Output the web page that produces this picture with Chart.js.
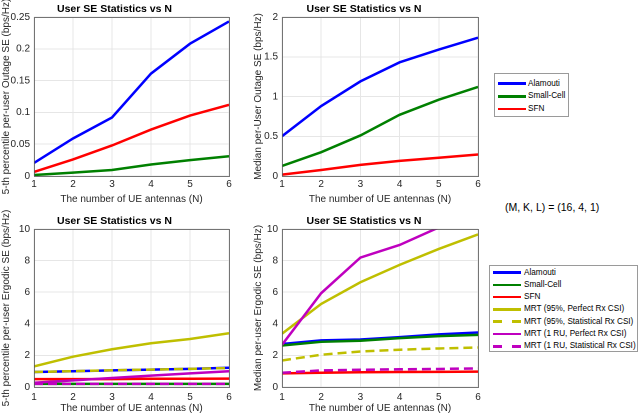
<!DOCTYPE html>
<html><head><meta charset="utf-8">
<script src="https://cdn.jsdelivr.net/npm/chart.js@4.4.0/dist/chart.umd.min.js"></script>
<style>
body{margin:0;background:#fff;width:640px;height:416px;overflow:hidden;position:relative;font-family:"Liberation Sans",Arial,sans-serif;}
canvas{position:absolute;}
.legend{position:absolute;border:1px solid #9a9a9a;background:#fff;box-sizing:border-box;color:#000;}
.row{position:absolute;left:0;right:0;height:0;}
.sw{position:absolute;width:28px;height:2.5px;margin-top:-1.25px;}
.lbl{position:absolute;white-space:nowrap;transform:translateY(-50%);line-height:1;}
#mkl{position:absolute;left:505px;top:201px;font-size:10.5px;color:#000;white-space:nowrap;}
</style></head><body>
<canvas id="cTL" style="left:0;top:0;width:240px;height:205px" width="240" height="205"></canvas>
<canvas id="cTR" style="left:250px;top:0;width:235px;height:205px" width="235" height="205"></canvas>
<canvas id="cBL" style="left:0;top:205px;width:240px;height:211px" width="240" height="211"></canvas>
<canvas id="cBR" style="left:250px;top:205px;width:235px;height:211px" width="235" height="211"></canvas>
<div class="legend" id="leg1" style="left:494px;top:73px;width:75px;height:44px;font-size:8.2px"></div>
<div class="legend" id="leg2" style="left:489px;top:265px;width:149px;height:87px;font-size:8.2px"></div>
<div id="mkl">(M, K, L) = (16, 4, 1)</div>
<script>
// ---- data ----
const N = [1, 2, 3, 4, 5, 6];
const titleText = 'User SE Statistics vs N';
const xTitle = 'The number of UE antennas (N)';
const seriesNames = ['Alamouti', 'Small-Cell', 'SFN', 'MRT (95%, Perfect Rx CSI)', 'MRT (95%, Statistical Rx CSI)', 'MRT (1 RU, Perfect Rx CSI)', 'MRT (1 RU, Statistical Rx CSI)'];

// top-left: 5-th percentile outage SE
const tlAlamouti = [0.0205, 0.059, 0.092, 0.161, 0.208, 0.243];
const tlSmallCell = [0.0016, 0.0053, 0.0095, 0.018, 0.025, 0.031];
const tlSFN = [0.0063, 0.026, 0.048, 0.073, 0.095, 0.112];
const tlTicks = [0, 0.05, 0.1, 0.15, 0.2, 0.25];

// top-right: median outage SE
const trAlamouti = [0.50, 0.88, 1.19, 1.43, 1.59, 1.74];
const trSmallCell = [0.126, 0.30, 0.51, 0.77, 0.96, 1.12];
const trSFN = [0.017, 0.076, 0.14, 0.19, 0.23, 0.27];
const trTicks = [0, 0.5, 1, 1.5, 2];

// bottom-left: 5-th percentile ergodic SE
const blAlamouti = [0.95, 1.0, 1.05, 1.1, 1.15, 1.22];
const blSmallCell = [0.2, 0.2, 0.2, 0.2, 0.2, 0.2];
const blSFN = [0.5, 0.5, 0.5, 0.52, 0.52, 0.53];
const blMRT95Perfect = [1.3, 1.92, 2.39, 2.77, 3.04, 3.4];
const blMRT95Stat = [0.95, 1.0, 1.06, 1.1, 1.15, 1.2];
const blMRT1RUPerfect = [0.27, 0.42, 0.57, 0.72, 0.86, 1.0];
const blMRT1RUStat = [0.2, 0.2, 0.2, 0.2, 0.2, 0.2];
const bTicks = [0, 2, 4, 6, 8, 10];

// bottom-right: median ergodic SE
const brAlamouti = [2.72, 2.95, 3.01, 3.16, 3.33, 3.45];
const brSmallCell = [2.63, 2.86, 2.93, 3.09, 3.22, 3.3];
const brSFN = [0.86, 0.9, 0.93, 0.95, 0.96, 0.97];
const brMRT95Perfect = [3.37, 5.26, 6.63, 7.73, 8.74, 9.66];
const brMRT95Stat = [1.68, 2.04, 2.25, 2.36, 2.44, 2.5];
const brMRT1RUPerfect = [2.67, 5.94, 8.19, 8.99, 10.1, 11.2];
const brMRT1RUStat = [0.9, 1.05, 1.09, 1.12, 1.14, 1.18];

// ---- styles ----
const colors = ['#0000ff', '#008000', '#ff0000', '#bfbf00', '#bfbf00', '#bf00bf', '#bf00bf'];
const dashes = [[], [], [], [], [9, 5], [], [9, 5]];
const tickColor = '#262626';

const boxPlugin = {
  id: 'boxPlugin',
  afterDraw(chart) {
    const a = chart.chartArea, ctx = chart.ctx;
    ctx.save();
    ctx.strokeStyle = '#555';
    ctx.lineWidth = 0.8;
    ctx.strokeRect(Math.round(a.left) + 0.5, Math.round(a.top) + 0.5, Math.round(a.right - a.left), Math.round(a.bottom - a.top));
    ctx.restore();
  }
};

function makeChart(id, seriesList, yTicks, yMax, yTitle, geo) {
  const datasets = seriesList.map((s, i) => ({
    label: seriesNames[s.idx],
    data: s.data,
    borderColor: colors[s.idx],
    backgroundColor: colors[s.idx],
    borderWidth: 2.5,
    borderDash: dashes[s.idx],
    pointRadius: 0,
    tension: 0,
    fill: false,
    clip: 0,
    order: 10 - s.idx
  }));
  new Chart(document.getElementById(id), {
    type: 'line',
    data: { labels: N, datasets },
    options: {
      responsive: false,
      animation: false,
      devicePixelRatio: 2,
      layout: { padding: { left: 0, right: geo.padRight, top: 0, bottom: 0 } },
      plugins: {
        legend: { display: false },
        tooltip: { enabled: false },
        title: {
          display: true, text: titleText, color: '#000',
          font: { family: 'Liberation Sans', size: 10.5, weight: 'bold', lineHeight: 1.2 },
          padding: { top: geo.titleTop, bottom: geo.titleBottom }
        }
      },
      scales: {
        x: {
          type: 'category',
          offset: false,
          grid: { color: '#e6e6e6', drawTicks: false, lineWidth: 1 },
          border: { display: false },
          ticks: { color: tickColor, font: { family: 'Liberation Sans', size: 10 }, padding: geo.xTickPad, maxRotation: 0 },
          title: { display: true, text: xTitle, color: tickColor, font: { family: 'Liberation Sans', size: 10 }, padding: { top: 0, bottom: geo.xTitlePad } },
          afterFit(scale) { scale.height = geo.xHeight; }
        },
        y: {
          min: 0, max: yMax,
          grid: { color: '#e6e6e6', drawTicks: false, lineWidth: 1 },
          border: { display: false },
          afterBuildTicks(scale) { scale.ticks = yTicks.map(v => ({ value: v })); },
          ticks: { color: tickColor, font: { family: 'Liberation Sans', size: 10 }, padding: 4, callback: v => String(v) },
          title: { display: true, text: yTitle, color: tickColor, font: { family: 'Liberation Sans', size: 10 }, padding: { top: geo.yTitlePad, bottom: 0 } },
          afterFit(scale) { scale.width = geo.yWidth; }
        }
      }
    },
    plugins: [boxPlugin]
  });
}

const geoTL = { padRight: 11, titleTop: 3, titleBottom: 1.4, xHeight: 29, xTickPad: 2, xTitlePad: 0, yWidth: 34, yTitlePad: 0 };
const geoTR = { padRight: 7, titleTop: 3, titleBottom: 1.4, xHeight: 29, xTickPad: 2, xTitlePad: 0, yWidth: 32, yTitlePad: 2 };
const geoBL = { padRight: 11, titleTop: 10, titleBottom: 1.4, xHeight: 29, xTickPad: 4, xTitlePad: 2, yWidth: 34, yTitlePad: 0 };
const geoBR = { padRight: 7, titleTop: 10, titleBottom: 1.4, xHeight: 29, xTickPad: 4, xTitlePad: 2, yWidth: 32, yTitlePad: 2 };

makeChart('cTL', [
  { idx: 0, data: tlAlamouti }, { idx: 1, data: tlSmallCell }, { idx: 2, data: tlSFN }
], tlTicks, 0.25, '5-th percentile per-user Outage SE (bps/Hz)', geoTL);

makeChart('cTR', [
  { idx: 0, data: trAlamouti }, { idx: 1, data: trSmallCell }, { idx: 2, data: trSFN }
], trTicks, 2, 'Median per-User Outage SE (bps/Hz)', geoTR);

makeChart('cBL', [
  { idx: 0, data: blAlamouti }, { idx: 1, data: blSmallCell }, { idx: 2, data: blSFN },
  { idx: 3, data: blMRT95Perfect }, { idx: 4, data: blMRT95Stat },
  { idx: 5, data: blMRT1RUPerfect }, { idx: 6, data: blMRT1RUStat }
], bTicks, 10, '5-th percentile per-user Ergodic SE (bps/Hz)', geoBL);

makeChart('cBR', [
  { idx: 0, data: brAlamouti }, { idx: 1, data: brSmallCell }, { idx: 2, data: brSFN },
  { idx: 3, data: brMRT95Perfect }, { idx: 4, data: brMRT95Stat },
  { idx: 5, data: brMRT1RUPerfect }, { idx: 6, data: brMRT1RUStat }
], bTicks, 10, 'Median per-user Ergodic SE (bps/Hz)', geoBR);

// ---- legends ----
function buildLegend(id, count, y0, step, swLeft, txtLeft) {
  const el = document.getElementById(id);
  for (let i = 0; i < count; i++) {
    const row = document.createElement('div');
    row.className = 'row';
    row.style.top = (y0 + i * step) + 'px';
    const sw = document.createElement('div');
    sw.className = 'sw';
    sw.style.left = swLeft + 'px';
    if (dashes[i].length) {
      sw.style.background = 'linear-gradient(90deg,' + colors[i] + ' 0 9px, transparent 9px 19px,' + colors[i] + ' 19px 28px)';
    } else {
      sw.style.background = colors[i];
    }
    const lb = document.createElement('div');
    lb.className = 'lbl';
    lb.style.left = txtLeft + 'px';
    lb.textContent = seriesNames[i];
    row.appendChild(sw); row.appendChild(lb);
    el.appendChild(row);
  }
}
buildLegend('leg1', 3, 9.5, 12.8, 3, 33);
buildLegend('leg2', 7, 6.5, 12.3, 3, 34);
</script>
</body></html>
